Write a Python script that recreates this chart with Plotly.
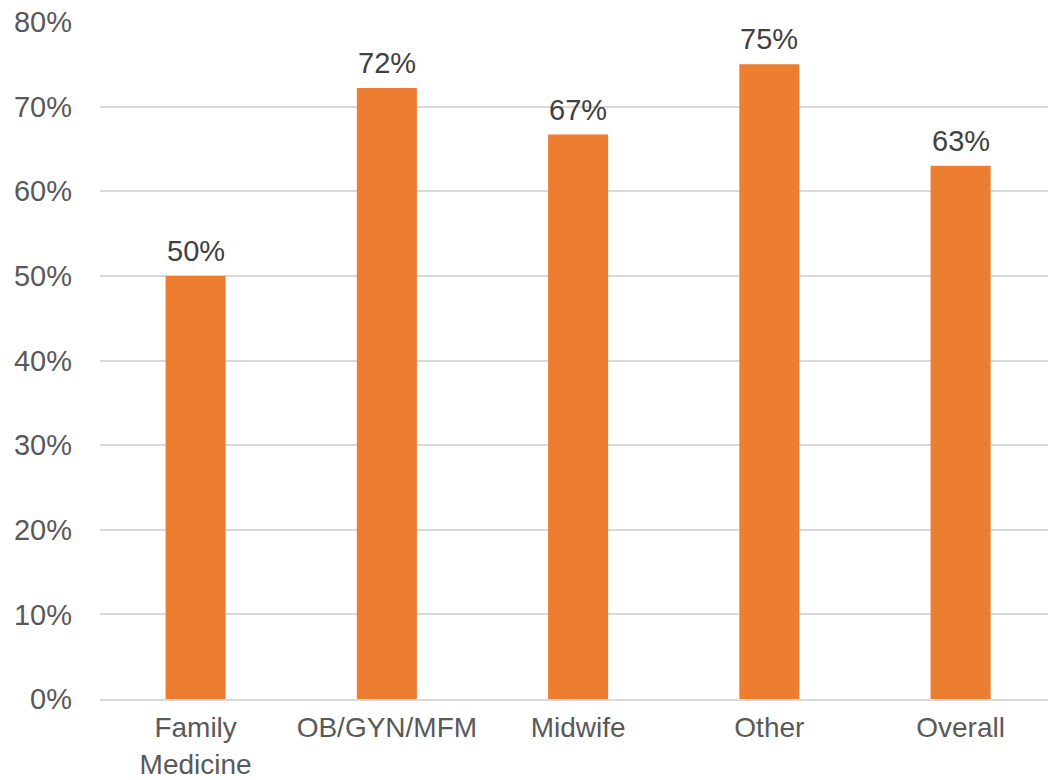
import plotly.graph_objects as go

categories = ["Family<br>Medicine", "OB/GYN/MFM", "Midwife", "Other", "Overall"]
values = [50.0, 72.2, 66.7, 75.0, 63.0]
labels = ["50%", "72%", "67%", "75%", "63%"]
tick_vals = [0, 10, 20, 30, 40, 50, 60, 70, 80]
tick_text = ["0%", "10%", "20%", "30%", "40%", "50%", "60%", "70%", "80%"]

FONT = "Liberation Sans, Arial, sans-serif"
FS = 29

fig = go.Figure()
fig.add_trace(go.Bar(
    x=list(range(len(categories))), y=values,
    marker=dict(color="#ED7D31", line=dict(width=0)),
    hoverinfo="skip",
))
for i, (v, t) in enumerate(zip(values, labels)):
    fig.add_annotation(x=i, y=v, text=t, showarrow=False, yanchor="bottom",
                       yshift=7, font=dict(family=FONT, size=FS, color="#404040"))

fig.update_layout(
    width=1048, height=780,
    margin=dict(l=100, r=0, t=22, b=81),
    paper_bgcolor="white", plot_bgcolor="white",
    bargap=0.686,
    showlegend=False,
    font=dict(family=FONT, size=FS, color="#595959"),
)
fig.update_yaxes(range=[0, 80], tickvals=tick_vals, ticktext=tick_text,
                 showgrid=True, gridcolor="#D9D9D9", gridwidth=1.5,
                 zeroline=False, showline=False, ticks="", automargin=False,
                 ticklabelstandoff=27,
                 tickfont=dict(family=FONT, size=FS, color="#595959"))
fig.update_xaxes(range=[-0.5, 4.457], tickvals=list(range(len(categories))),
                 ticktext=categories, automargin=False,
                 showline=True, linecolor="#D9D9D9", linewidth=1.5, ticks="",
                 showgrid=False, zeroline=False,
                 ticklabelstandoff=3,
                 tickfont=dict(family=FONT, size=28, color="#595959"))

fig.write_html("out.html")
